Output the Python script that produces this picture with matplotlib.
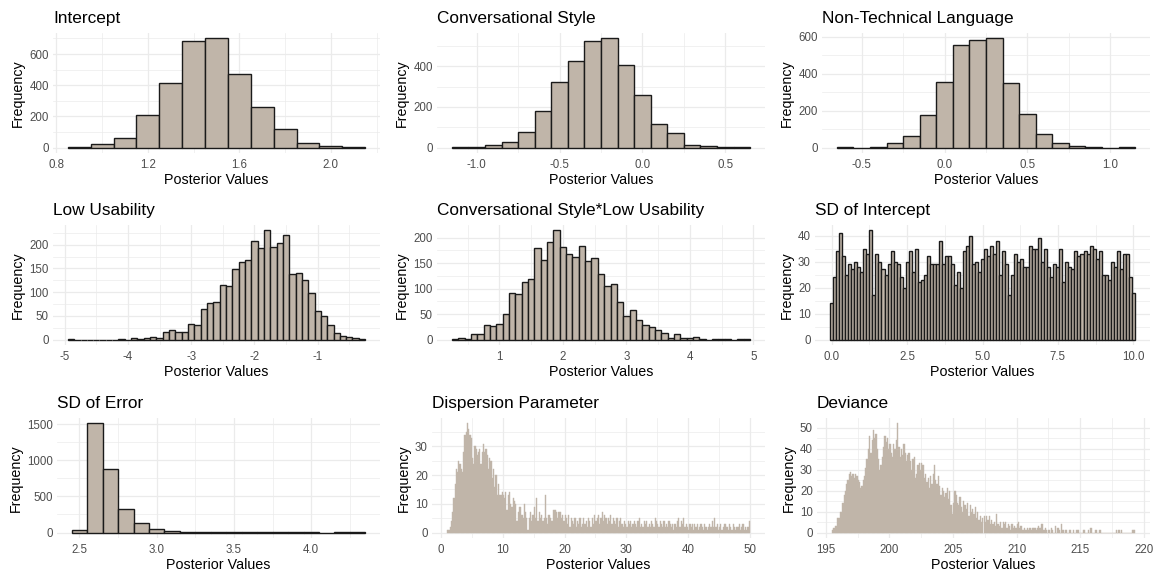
import numpy as np
import matplotlib.pyplot as plt
from matplotlib.ticker import MultipleLocator, AutoMinorLocator

plt.rcParams['font.family'] = ['Liberation Sans', 'DejaVu Sans']
plt.rcParams['axes.unicode_minus'] = False

# posterior draws, binned counts (start = left edge of first bin, bw = bin width)
intercept_start, intercept_bw = 0.85, 0.1
intercept_counts = [3, 25, 60, 210, 415, 685, 700, 475, 262, 120, 28, 12, 2]

conv_start, conv_bw = -1.15, 0.1
conv_counts = [1, 5, 13, 27, 78, 178, 322, 428, 525, 537, 405, 258, 118, 72, 13, 6, 2, 1]

nontech_start, nontech_bw = -0.65, 0.1
nontech_counts = [1, 0, 3, 27, 62, 178, 352, 556, 580, 590, 350, 182, 73, 25, 10, 3, 0, 1]

lowuse_start, lowuse_bw = -4.95, 0.1
lowuse_counts = [1, 0, 0, 0, 0, 0, 0, 0, 2, 0, 3, 2, 4, 5, 3, 16, 20, 15, 15, 32,
                 31, 64, 77, 80, 114, 112, 148, 163, 167, 207, 194, 230, 196, 203, 220,
                 139, 141, 125, 99, 61, 50, 30, 13, 8, 6, 3, 1]

inter_start, inter_bw = 0.25, 0.1
inter_counts = [1, 3, 1, 11, 10, 28, 26, 30, 50, 91, 89, 113, 118, 180, 157, 191, 214,
                181, 168, 162, 183, 155, 159, 128, 105, 109, 73, 47, 58, 38, 28, 25, 19,
                13, 3, 10, 4, 4, 5, 1, 0, 1, 1, 1, 0, 1, 1]

sdint_start, sdint_bw = -0.05, 0.1
sdint_counts = [14, 24, 34, 41, 32, 25, 29, 27, 30, 28,
                26, 35, 33, 42, 17, 33, 30, 27, 25, 29,
                34, 30, 29, 24, 20, 30, 34, 26, 35, 22,
                23, 25, 32, 29, 29, 29, 38, 29, 32, 32,
                29, 21, 26, 20, 34, 36, 40, 29, 30, 26,
                31, 35, 32, 36, 33, 38, 25, 34, 29, 17,
                25, 33, 30, 31, 28, 28, 36, 35, 35, 39,
                30, 35, 28, 24, 29, 28, 35, 22, 30, 28,
                27, 34, 32, 33, 34, 33, 36, 35, 31, 34,
                25, 25, 23, 30, 28, 34, 27, 33, 33, 24, 18]

sderr_start, sderr_bw = 2.45, 0.1
sderr_counts = [30, 1510, 880, 330, 135, 45, 25, 10, 5, 3, 2, 2, 1, 1, 1, 1, 0, 1, 1]

disp_start, disp_bw = 1.0, 0.2
disp_counts = [1, 1, 2, 4, 7, 12, 17, 22, 21, 25, 24, 22, 21, 28, 34,
               35, 38, 36, 34, 33, 26, 24, 30, 29, 27, 28, 29, 24, 28, 31,
               28, 29, 27, 22, 26, 25, 19, 22, 16, 20, 13, 17, 13, 13, 14,
               13, 12, 14, 8, 13, 14, 10, 9, 12, 11, 10, 4, 7, 9, 9,
               6, 5, 10, 7, 5, 1, 5, 7, 4, 6, 9, 5, 12, 4, 7,
               5, 6, 4, 5, 13, 5, 3, 6, 5, 4, 4, 8, 8, 7, 5,
               7, 7, 5, 6, 4, 6, 5, 3, 6, 2, 5, 4, 3, 5, 2,
               4, 3, 5, 2, 3, 5, 3, 4, 2, 5, 4, 2, 5, 3, 6,
               4, 5, 6, 3, 5, 7, 4, 6, 5, 3, 5, 4, 6, 3, 5,
               4, 3, 5, 2, 4, 5, 3, 2, 4, 3, 2, 4, 3, 4, 2,
               3, 4, 3, 2, 4, 5, 2, 3, 2, 4, 3, 4, 2, 3, 2,
               4, 3, 2, 5, 4, 3, 2, 4, 3, 2, 4, 2, 3, 2, 4,
               3, 2, 3, 1, 3, 2, 4, 5, 2, 4, 3, 5, 2, 3, 2,
               1, 3, 2, 3, 1, 3, 2, 3, 1, 2, 3, 2, 1, 3, 2,
               1, 2, 3, 2, 4, 2, 5, 2, 3, 1, 2, 3, 1, 2, 3,
               3, 2, 1, 3, 2, 1, 3, 2, 1, 2, 2, 3, 1, 2, 3,
               1, 2, 1, 2, 4]

dev_start, dev_bw = 195.5, 0.1
dev_counts = [1, 2, 3, 3, 7, 7, 10, 10, 14, 18, 20, 23, 25, 28, 29,
              27, 28, 26, 28, 27, 25, 24, 21, 22, 25, 27, 31, 35, 40, 46,
              38, 44, 49, 45, 47, 40, 35, 30, 32, 36, 41, 46, 43, 45, 40,
              42, 38, 36, 42, 40, 44, 52, 41, 36, 40, 37, 42, 38, 34, 37,
              38, 34, 30, 35, 36, 26, 28, 32, 33, 30, 33, 32, 26, 28, 24,
              26, 21, 27, 23, 28, 32, 25, 23, 27, 22, 18, 21, 20, 17, 19,
              21, 16, 20, 13, 9, 14, 20, 18, 14, 13, 17, 12, 10, 15, 13,
              11, 14, 8, 13, 10, 11, 9, 12, 7, 10, 6, 8, 5, 7, 8,
              5, 8, 6, 8, 4, 6, 4, 5, 3, 9, 4, 3, 5, 2, 5,
              4, 5, 2, 4, 3, 1, 4, 2, 3, 2, 4, 5, 2, 3, 1,
              1, 2, 1, 2, 1, 2, 1, 2, 2, 2, 1, 2, 3, 2, 4,
              4, 1, 2, 1, 0, 1, 0, 2, 1, 0, 3, 0, 2, 1, 0,
              4, 1, 0, 1, 1, 0, 1, 1, 0, 1, 0, 0, 1, 1, 0,
              0, 0, 1, 1, 0, 0, 1, 0, 2, 0, 0, 0, 1, 0, 0,
              1, 0, 0, 0, 0, 0, 0, 0, 0, 0, 0, 0, 0, 1, 0,
              1, 0, 1, 0, 0, 0, 0, 0, 0, 0, 0, 1, 1]

titles = ['Intercept', 'Conversational Style', 'Non-Technical Language',
          'Low Usability', 'Conversational Style*Low Usability', 'SD of Intercept',
          'SD of Error', 'Dispersion Parameter', 'Deviance']

fill = '#C0B5A9'

# (start, bw, counts, outlined, x major step, y major step, x tick format)
panels = [
    (intercept_start, intercept_bw, intercept_counts, True, 0.4, 200, '{:.1f}'),
    (conv_start, conv_bw, conv_counts, True, 0.5, 200, '{:.1f}'),
    (nontech_start, nontech_bw, nontech_counts, True, 0.5, 200, '{:.1f}'),
    (lowuse_start, lowuse_bw, lowuse_counts, True, 1, 50, '{:.0f}'),
    (inter_start, inter_bw, inter_counts, True, 1, 50, '{:.0f}'),
    (sdint_start, sdint_bw, sdint_counts, True, 2.5, 10, '{:.1f}'),
    (sderr_start, sderr_bw, sderr_counts, True, 0.5, 500, '{:.1f}'),
    (disp_start, disp_bw, disp_counts, False, 10, 10, '{:.0f}'),
    (dev_start, dev_bw, dev_counts, False, 5, 10, '{:.0f}'),
]

# panel boxes in pixels: left, top, right, bottom
W, H = 1156, 575
lefts = [53, 437, 822, 53, 437, 815, 57, 432, 817]
rights = [380, 765, 1150] * 3
rows = [(33, 153), (225, 345), (418, 538)]

fig = plt.figure(figsize=(W / 100, H / 100), dpi=100)

for i, (start, bw, counts, outlined, xstep, ystep, fmt) in enumerate(panels):
    top, bot = rows[i // 3]
    l, r = lefts[i], rights[i % 3]
    ax = fig.add_axes([l / W, 1 - bot / H, (r - l) / W, (bot - top) / H])

    counts = np.array(counts)
    edges = start + bw * np.arange(len(counts))
    if outlined:
        ax.bar(edges, counts, width=bw, align='edge', color=fill,
               edgecolor='#1A1A1A', linewidth=1.0, zorder=3)
    else:
        ax.bar(edges, counts, width=bw, align='edge', color=fill,
               edgecolor=fill, linewidth=0.3, zorder=3)

    x0, x1 = start, start + bw * len(counts)
    xr = x1 - x0
    ax.set_xlim(x0 - 0.05 * xr, x1 + 0.05 * xr)
    ymax = counts.max()
    ax.set_ylim(-0.05 * ymax, 1.05 * ymax)

    ax.xaxis.set_major_locator(MultipleLocator(xstep))
    ax.yaxis.set_major_locator(MultipleLocator(ystep))
    ax.xaxis.set_minor_locator(AutoMinorLocator(2))
    ax.yaxis.set_minor_locator(AutoMinorLocator(2))
    xt = [t for t in ax.get_xticks() if x0 - 0.05 * xr <= t <= x1 + 0.05 * xr]
    ax.set_xticks(xt)
    ax.set_xticklabels([fmt.format(t) for t in xt])

    ax.grid(which='major', color='#EBEBEB', linewidth=0.9, zorder=0)
    ax.grid(which='minor', color='#EBEBEB', linewidth=0.5, zorder=0)
    ax.set_axisbelow(True)
    for s in ax.spines.values():
        s.set_visible(False)
    ax.tick_params(which='both', length=0, labelsize=8.3, labelcolor='#4D4D4D')
    ax.tick_params(axis='x', pad=4)
    ax.tick_params(axis='y', pad=3)

    ax.set_title(titles[i], loc='left', fontsize=12.4, pad=7, color='black')
    ax.set_xlabel('Posterior Values', fontsize=10.3, labelpad=1.5)
    ax.set_ylabel('Frequency', fontsize=10.3, labelpad=3)

fig.savefig('out.png', dpi=100, facecolor='white')
